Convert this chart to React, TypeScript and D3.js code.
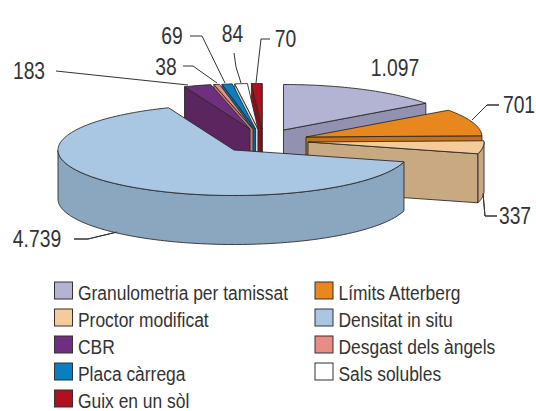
import React from "react";
import * as d3 from "d3";

const categories = ["Granulometria per tamissat","Límits Atterberg","Proctor modificat","Densitat in situ","CBR","Desgast dels àngels","Placa càrrega","Sals solubles","Guix en un sòl"];
const values = [1097,701,337,4739,183,38,69,84,70];
const valueLabels = ["1.097","701","337","4.739","183","38","69","84","70"];
const topColors = ["#b3b3d3","#e8871e","#f6cb9a","#a9c6e3","#6d2f7e","#e88d86","#0a7fc0","#ffffff","#b1101f"];
const sideColors = ["#9292b0","#c4721a","#c8a982","#8ba6bf","#5b2660","#c27a72","#08689c","#d8d8d8","#8f0d19"];
const apexes: [number,number][] = [[283.5,130],[306,137],[308,142],[234,150],[250,129],[253,129],[255.5,129],[258,129],[262,129]];
const drawOrder = [0,8,7,6,5,4,1,2,3];
const labelPos: [number,number][] = [[395,76],[519,113],[515,224],[37,247],[29,79],[166,75],[172,44],[232.5,42],[285.5,47]];
const leaders: [number,number][][] = [[],[[472,120],[487,105],[499,105]],[[483,193],[485,216],[497,216]],[[74,239],[88,239],[117,232]],[[56,71],[188,85]],[[183,66],[193,66],[217,83]],[[190,36],[202,36],[225,83]],[[234,53],[236,67],[241,83]],[[270,39],[261,39],[256,83]]];
const legendOrder = [0,2,4,6,8,1,3,5,7];

const RX = 176, RY = 45.5, DEPTH = 49;
const FONT = "'Liberation Sans', sans-serif";
const STROKE = "#2b2b2b";

export default function App() {
  const pie = d3.pie<number>().sort(null)(values);
  const sx = d3.scaleLinear().domain([-1,1]).range([-RX,RX]);
  const sy = d3.scaleLinear().domain([-1,1]).range([-RY,RY]);
  const pt = (a: number, ap: [number,number], dz = 0): [number,number] =>
    [ap[0] + sx(Math.sin(a)), ap[1] + sy(-Math.cos(a)) + dz];
  const line = d3.line();
  const arcPts = (a0: number, a1: number, ap: [number,number], dz = 0) => {
    const n = Math.max(2, Math.ceil((a1 - a0) / 0.02));
    return d3.range(n + 1).map(i => pt(a0 + (a1 - a0) * i / n, ap, dz));
  };
  const faces = (i: number) => {
    const d = pie[i]; const ap = apexes[i];
    const out: React.ReactNode[] = [];
    const side = sideColors[i];
    const radial = (a: number, k: string) => {
      const p = pt(a, ap); const q: [number,number] = [ap[0], ap[1] + DEPTH]; const r = pt(a, ap, DEPTH);
      out.push(<path key={k} d={line([ap, p, r, q])! + "Z"} fill={side} stroke={STROKE} strokeWidth={0.9} strokeLinejoin="round" />);
    };
    if (Math.sin(d.startAngle) < 0) radial(d.startAngle, "s");
    if (Math.sin(d.endAngle) > 0) radial(d.endAngle, "e");
    const w0 = Math.max(d.startAngle, Math.PI/2), w1 = Math.min(d.endAngle, 3*Math.PI/2);
    if (w1 > w0) {
      const pts = [...arcPts(w0,w1,ap), ...arcPts(w0,w1,ap,DEPTH).reverse()];
      out.push(<path key="w" d={line(pts)! + "Z"} fill={side} stroke={STROKE} strokeWidth={0.9} strokeLinejoin="round" />);
    }
    const top = [ap, ...arcPts(d.startAngle, d.endAngle, ap)];
    out.push(<path key="t" d={line(top)! + "Z"} fill={topColors[i]} stroke={STROKE} strokeWidth={0.9} strokeLinejoin="round" />);
    return out;
  };
  const legendY = d3.scalePoint<number>().domain(d3.range(5)).range([282,390]);
  return (
    <svg width={536} height={411} viewBox="0 0 536 411" style={{position:"fixed",left:0,top:0,background:"#fff"}}>
      {leaders.map((l,i)=> l.length ? <path key={i} d={line(l)!} fill="none" stroke="#333" strokeWidth={1}/> : null)}
      {drawOrder.map(i => <g key={i}>{faces(i)}</g>)}
      {leaders.slice(1,4).map((l,i)=> <path key={"f"+i} d={line(l)!} fill="none" stroke="#333" strokeWidth={1}/>)}
      {valueLabels.map((t,i)=>(
        <text key={t} transform={`translate(${labelPos[i][0]},${labelPos[i][1]}) scale(0.84,1)`} textAnchor="middle" fontFamily={FONT} fontSize={23} fill="#333">{t}</text>
      ))}
      {legendOrder.map((c,k)=>{
        const col = k < 5 ? 0 : 1; const row = k < 5 ? k : k-5;
        const x = col ? 315 : 54.5; const y = legendY(row)!;
        return <g key={c}>
          <rect x={x} y={y} width={18} height={17} fill={topColors[c]} stroke="#333" strokeWidth={1}/>
          <text transform={`translate(${x+23.5},${y+17.5}) scale(0.83,1)`} fontFamily={FONT} fontSize={21} fill="#333">{categories[c]}</text>
        </g>;
      })}
    </svg>
  );
}
